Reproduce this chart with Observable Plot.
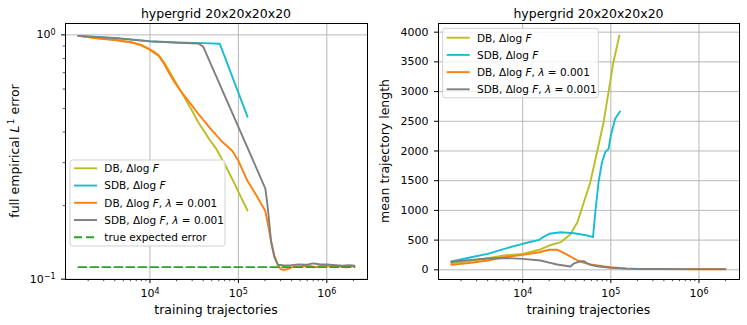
<!DOCTYPE html>
<html><head><meta charset="utf-8">
<script src="https://cdn.jsdelivr.net/npm/d3@7"></script>
<script src="https://cdn.jsdelivr.net/npm/@observablehq/plot@0.6"></script>
<style>
body{margin:0;background:#fff}
#wrap{position:relative;width:747px;height:325px;font-family:"DejaVu Sans"}
.p{position:absolute;top:0}
#ov{position:absolute;left:0;top:0;pointer-events:none}
</style>
</head><body><div id="wrap"></div>
<script>
// ---------- data ----------
const titles = ["hypergrid 20x20x20x20", "hypergrid 20x20x20x20"];
const seriesNames = ["DB, ΔlogF", "SDB, ΔlogF", "DB, ΔlogF, λ = 0.001", "SDB, ΔlogF, λ = 0.001", "true expected error"];
const xTicks = [1e4, 1e5, 1e6];
const xTickLabels = ["10^4", "10^5", "10^6"];
const yTicksL = [0.1, 1];
const yTickLabelsL = ["10^−1", "10^0"];
const yTicksR = [0, 500, 1000, 1500, 2000, 2500, 3000, 3500, 4000];

// left panel: full empirical L1 error
const L_db_x = [1550, 2620, 4000, 6290, 8000, 9690, 11000, 12600, 14500, 16400, 19000, 22200, 26000, 30200, 35000, 40800, 47000, 55500, 63000, 72100, 83000, 95000, 110000, 127000];
const L_db_y = [0.99, 0.968, 0.955, 0.932, 0.91, 0.878, 0.856, 0.825, 0.77, 0.715, 0.65, 0.59, 0.535, 0.487, 0.44, 0.404, 0.373, 0.344, 0.317, 0.29, 0.262, 0.237, 0.212, 0.191];
const L_sdb_x = [1550, 4000, 10000, 20000, 40000, 61500, 127000];
const L_sdb_y = [0.99, 0.972, 0.942, 0.93, 0.925, 0.92, 0.462];
const L_dbl_x = [1550, 2620, 4000, 6290, 8000, 9690, 11000, 12600, 14500, 16400, 19000, 22200, 26000, 30200, 36000, 42800, 48500, 55500, 65000, 75000, 85900, 100000, 127000, 160000, 201700, 218000, 234000, 255000, 279000, 300000, 320000, 345000, 370000, 431000, 520000, 620000, 750000, 900000, 1100000, 1350000, 1650000, 2050000];
const L_dbl_y = [0.99, 0.966, 0.952, 0.930, 0.905, 0.873, 0.848, 0.820, 0.76, 0.700, 0.64, 0.589, 0.548, 0.511, 0.47, 0.436, 0.412, 0.391, 0.366, 0.35, 0.334, 0.305, 0.252, 0.22, 0.190, 0.165, 0.143, 0.125, 0.1146, 0.110, 0.1093, 0.1095, 0.1105, 0.1128, 0.113, 0.1135, 0.112, 0.114, 0.1125, 0.113, 0.1118, 0.1132];
const L_sdbl_x = [1550, 4000, 10000, 25000, 35300, 40000, 201800, 210000, 218000, 234000, 255000, 279000, 330000, 400000, 480000, 580000, 700000, 850000, 1000000, 1250000, 1500000, 1800000, 2050000];
const L_sdbl_y = [0.99, 0.97, 0.94, 0.926, 0.922, 0.895, 0.235, 0.21, 0.187, 0.143, 0.123, 0.1146, 0.1138, 0.1142, 0.1150, 0.1145, 0.1160, 0.1150, 0.1148, 0.1140, 0.1135, 0.1140, 0.1135];
const L_true_x = [1550, 2050000];
const L_true_y = [0.112, 0.112];

// right panel: mean trajectory length
const R_db_x = [1550, 2600, 4000, 6200, 10000, 15400, 20000, 27000, 34800, 41800, 49200, 58500, 69700, 82800, 94200, 107000, 125000];
const R_db_y = [110, 150, 195, 241, 269, 337, 409, 465, 600, 800, 1130, 1475, 1980, 2485, 2990, 3495, 3944];
const R_sdb_x = [1550, 2600, 4000, 6200, 10000, 15400, 17500, 20000, 27000, 38400, 54200, 62800, 66700, 72600, 79400, 86500, 94200, 100000, 112000, 127000];
const R_sdb_y = [140, 212, 269, 353, 438, 505, 560, 606, 633, 616, 577, 549, 970, 1475, 1811, 1980, 2037, 2261, 2542, 2665];
const R_dbl_x = [1550, 2600, 4000, 6200, 10000, 15400, 20000, 24800, 30800, 41800, 54200, 70000, 98400, 150000, 200000, 400000, 1000000, 2000000];
const R_dbl_y = [84, 118, 157, 212, 252, 296, 337, 337, 269, 157, 101, 75, 44, 22, 15, 12, 10, 10];
const R_sdbl_x = [1550, 2600, 4000, 6200, 10000, 16000, 20000, 24600, 34800, 38400, 44000, 49200, 54200, 58500, 70000, 98400, 150000, 300000, 700000, 2000000];
const R_sdbl_y = [135, 168, 190, 200, 185, 157, 120, 89, 56, 110, 140, 145, 111, 84, 60, 34, 20, 14, 12, 12];

// ---------- styling ----------
const C = {db: "#bcbd22", sdb: "#17becf", dbl: "#ff7f0e", sdbl: "#7f7f7f", tru: "#2ca02c"};
const LW = 1.9;
const xDomain = [10 ** 3.045, 10 ** 6.46];
const xMinor = [];
for (let k = 3; k <= 6; k++) for (let m = 2; m <= 9; m++) {
  const v = m * 10 ** k; if (v > xDomain[0] && v < xDomain[1]) xMinor.push(v);
}
const yMinorL = d3.range(2, 10).map(m => m / 10);
const grid = {stroke: "#b0b0b0", strokeOpacity: 1, strokeWidth: 0.9};
const st = {fontFamily: "DejaVu Sans", fontSize: "11px", color: "black", background: "transparent", overflow: "visible"};
const ln = (xs, ys, stroke, extra = {}) => Plot.line(xs, {x: xs, y: ys, stroke, strokeWidth: LW, ...extra});

const left = Plot.plot({
  width: 373, height: 325, marginLeft: 65, marginRight: 6, marginTop: 23, marginBottom: 46,
  style: st,
  x: {type: "log", domain: xDomain},
  y: {type: "log", domain: [0.0997, 1.113]},
  marks: [
    Plot.gridX(xTicks, grid),
    Plot.gridY(yTicksL, grid),
    Plot.axisX(xMinor, {tickSize: 2.2, strokeWidth: 0.7, tickFormat: () => "", label: null}),
    Plot.axisX(xTicks, {tickSize: 4, tickPadding: 6, tickFormat: d => xTickLabels[xTicks.indexOf(d)], label: null}),
    Plot.axisY(yMinorL, {tickSize: 2.2, strokeWidth: 0.7, tickFormat: () => "", label: null}),
    Plot.axisY(yTicksL, {tickSize: 4, tickPadding: 6, tickFormat: d => yTickLabelsL[yTicksL.indexOf(d)], label: null}),
    ln(L_db_x, L_db_y, C.db),
    ln(L_sdb_x, L_sdb_y, C.sdb),
    ln(L_dbl_x, L_dbl_y, C.dbl),
    ln(L_sdbl_x, L_sdbl_y, C.sdbl),
    ln(L_true_x, L_true_y, C.tru, {strokeDasharray: "8,4"}),
    Plot.frame({stroke: "black", strokeWidth: 1})
  ]
});

const right = Plot.plot({
  width: 374, height: 325, marginLeft: 65, marginRight: 8, marginTop: 23, marginBottom: 46,
  style: st,
  x: {type: "log", domain: xDomain},
  y: {domain: [-163, 4146]},
  marks: [
    Plot.gridX(xTicks, grid),
    Plot.gridY(yTicksR, grid),
    Plot.axisX(xMinor, {tickSize: 2.2, strokeWidth: 0.7, tickFormat: () => "", label: null}),
    Plot.axisX(xTicks, {tickSize: 4, tickPadding: 6, tickFormat: d => xTickLabels[xTicks.indexOf(d)], label: null}),
    Plot.axisY(yTicksR, {tickSize: 4, tickPadding: 6, tickFormat: d3.format("d"), label: null}),
    ln(R_db_x, R_db_y, C.db),
    ln(R_sdb_x, R_sdb_y, C.sdb),
    ln(R_dbl_x, R_dbl_y, C.dbl),
    ln(R_sdbl_x, R_sdbl_y, C.sdbl),
    Plot.frame({stroke: "black", strokeWidth: 1})
  ]
});

// turn "10^k" tick labels into base + superscript
function supers(svg) {
  svg.querySelectorAll("text").forEach(t => {
    const m = /^10\^(.+)$/.exec(t.textContent);
    if (!m) return;
    t.textContent = "10";
    const s = document.createElementNS("http://www.w3.org/2000/svg", "tspan");
    s.setAttribute("dy", "-0.42em");
    s.setAttribute("font-size", "8px");
    s.textContent = m[1];
    t.appendChild(s);
  });
}
supers(left); supers(right);

const wrap = document.getElementById("wrap");
left.classList.add("p"); left.style.left = "0px";
right.classList.add("p"); right.style.left = "373px";
wrap.appendChild(left); wrap.appendChild(right);

// ---------- overlay: titles, axis labels, legends ----------
const it = s => `<tspan font-style="italic">${s}</tspan>`;
const legendTexts = [
  `DB, Δlog ${it("F")}`,
  `SDB, Δlog ${it("F")}`,
  `DB, Δlog ${it("F")}, ${it("λ")} = 0.001`,
  `SDB, Δlog ${it("F")}, ${it("λ")} = 0.001`,
  `true expected error`
];
const legendColors = [C.db, C.sdb, C.dbl, C.sdbl, C.tru];
function legend(x0, y0, w, h, n, firstY, step) {
  let s = `<rect x="${x0}" y="${y0}" width="${w}" height="${h}" rx="2.5" fill="white" fill-opacity="0.8" stroke="#cccccc" stroke-width="0.9"/>`;
  for (let i = 0; i < n; i++) {
    const y = firstY + i * step;
    const dash = i === 4 ? ` stroke-dasharray="8,4"` : "";
    s += `<line x1="${x0 + 4}" x2="${x0 + 27}" y1="${y}" y2="${y}" stroke="${legendColors[i]}" stroke-width="${LW}"${dash}/>`;
    s += `<text x="${x0 + 34.3}" y="${y + 3.8}" font-size="10.5">${legendTexts[i]}</text>`;
  }
  return s;
}
const ov = `<svg id="ov" width="747" height="325" font-family="DejaVu Sans" fill="black">
<text x="216" y="17.5" text-anchor="middle" font-size="12.5">${titles[0]}</text>
<text x="588.5" y="17.5" text-anchor="middle" font-size="12.5">${titles[1]}</text>
<text x="216" y="314" text-anchor="middle" font-size="12.5">training trajectories</text>
<text x="588.5" y="314" text-anchor="middle" font-size="12.5">training trajectories</text>
<text transform="translate(18.5,151) rotate(-90)" text-anchor="middle" font-size="12.5">full empirical ${it("L")}<tspan dx="1.5" dy="-5" font-size="8.8">1</tspan><tspan dy="5"> error</tspan></text>
<text transform="translate(389,151) rotate(-90)" text-anchor="middle" font-size="12.5">mean trajectory length</text>
${legend(70, 160, 155, 86, 5, 168.3, 17.25)}
${legend(442.7, 28.3, 155.6, 69.5, 4, 37.7, 17.2)}
</svg>`;
wrap.insertAdjacentHTML("beforeend", ov);
</script>
</body></html>
